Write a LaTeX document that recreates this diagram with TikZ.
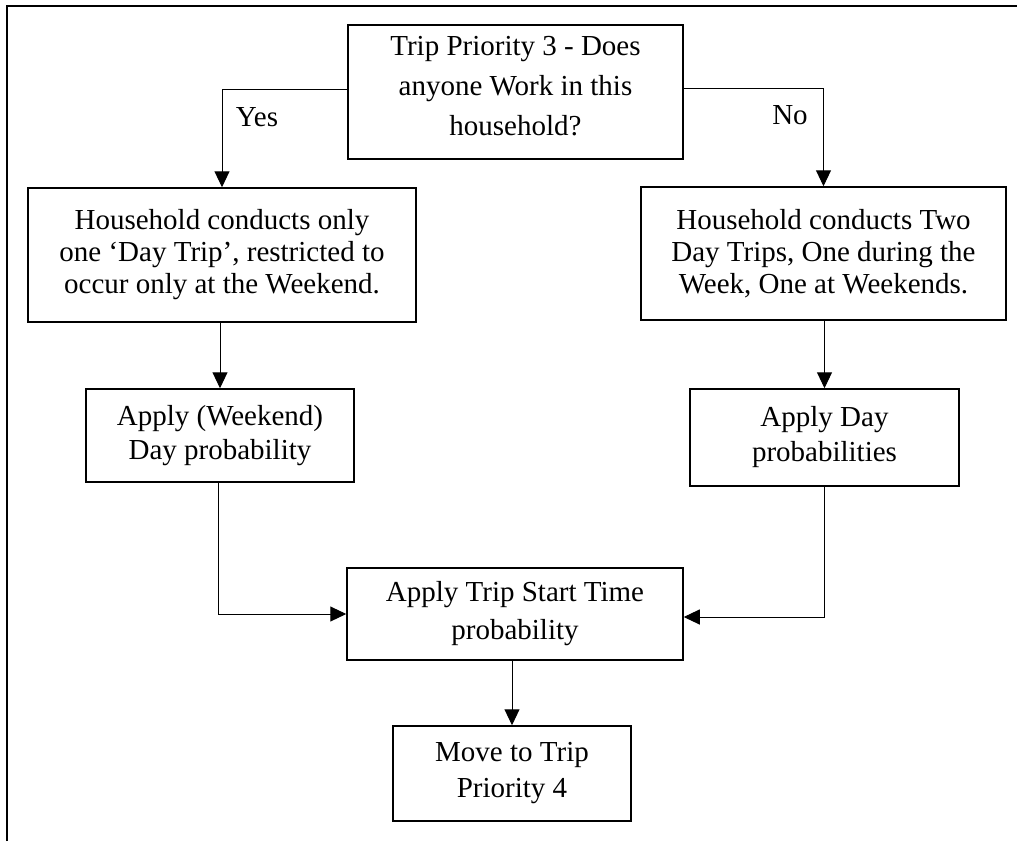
\documentclass[tikz,border=0pt]{standalone}
\usepackage{fontspec}
\setmainfont{Liberation Serif}
\usetikzlibrary{arrows.meta}

\begin{document}
\begin{tikzpicture}[x=1pt,y=-1pt,
  box/.style={draw, line width=1.5pt, inner sep=0pt, align=center,
    font=\fontsize{29}{#1}\selectfont},
  box/.default=32,
  conn/.style={line width=1pt, -{Triangle[length=16pt,width=15pt]}},
  lbl/.style={font=\fontsize{29}{32}\selectfont, inner sep=0pt}]
\useasboundingbox (0,0) rectangle (1017,841);

% open frame on the top and left
\draw[line width=2.5pt] (7,841) -- (7,6) -- (1017,6);

% decision and process boxes
\node[box=40, minimum width=335pt, minimum height=134pt, text depth=12pt] (top) at (515.5,92)
  {Trip Priority 3 - Does\\anyone Work in this\\household?};
\node[box=32, minimum width=388pt, minimum height=134pt] (yesbox) at (222,255)
  {Household conducts only\\one ‘Day Trip’, restricted to\\occur only at the Weekend.};
\node[box=32, minimum width=365pt, minimum height=133pt] (nobox) at (823.5,253.5)
  {Household conducts Two\\Day Trips, One during the\\Week, One at Weekends.};
\node[box=34, minimum width=268pt, minimum height=93pt] (wkday) at (220,435.5)
  {Apply (Weekend)\\Day probability};
\node[box=35, minimum width=269pt, minimum height=97pt] (dayprob) at (824.5,437.5)
  {Apply Day\\probabilities};
\node[box=38, minimum width=336pt, minimum height=92pt] (start) at (515,614)
  {Apply Trip Start Time\\probability};
\node[box=36, minimum width=238pt, minimum height=95pt] (next) at (512,773.5)
  {Move to Trip\\Priority 4};

% branch labels
\node[lbl] (yes) at (257,117) {Yes};
\node[lbl] (no) at (790,115) {No};

% connectors
\draw[conn] ([yshift=3pt]top.west) -| (yesbox.north);
\draw[conn] ([yshift=4pt]top.east) -| (nobox.north);
\draw[conn] (wkday.north |- yesbox.south) -- (wkday.north);
\draw[conn] (dayprob.north |- nobox.south) -- (dayprob.north);
\draw[conn] ([xshift=-2pt]wkday.south) |- (start.west);
\draw[conn] (dayprob.south) |- ([yshift=-3pt]start.east);
\draw[conn] (next.north |- start.south) -- (next.north);
\end{tikzpicture}
\end{document}
